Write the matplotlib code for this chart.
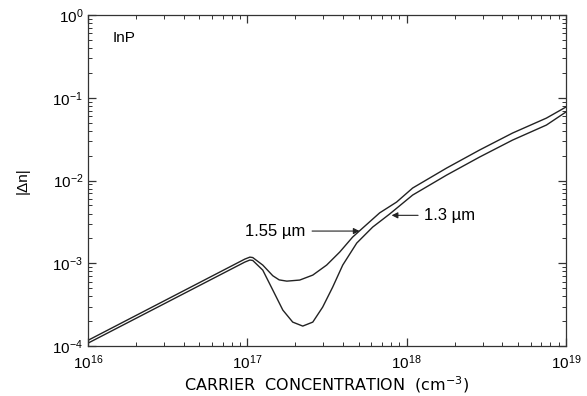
import numpy as np
import matplotlib.pyplot as plt
from matplotlib.ticker import LogLocator, NullFormatter

plt.rcParams['font.family'] = ['Liberation Sans', 'DejaVu Sans']

# log10(carrier concentration), log10(|dn|)
logn_155 = [16.00, 16.984, 17.016, 17.034, 17.097, 17.160, 17.200, 17.248,
            17.329, 17.411, 17.498, 17.580, 17.661, 17.724, 17.831, 17.937,
            18.038, 18.251, 18.458, 18.665, 18.878, 19.00]
logdn_155 = [-3.93, -2.949, -2.925, -2.930, -3.021, -3.150, -3.200, -3.215,
             -3.202, -3.142, -3.021, -2.864, -2.683, -2.574, -2.39, -2.260,
             -2.090, -1.849, -1.631, -1.426, -1.245, -1.112]

logn_13 = [16.00, 16.984, 17.016, 17.034, 17.097, 17.160, 17.223, 17.285,
           17.348, 17.411, 17.473, 17.536, 17.599, 17.687, 17.787, 17.893,
           18.038, 18.251, 18.458, 18.665, 18.878, 19.00]
logdn_13 = [-3.964, -2.985, -2.960, -2.965, -3.082, -3.323, -3.565, -3.710,
            -3.758, -3.710, -3.529, -3.287, -3.021, -2.755, -2.562, -2.405,
            -2.175, -1.934, -1.716, -1.511, -1.329, -1.172]

n_155 = 10.0 ** np.array(logn_155)
dn_155 = 10.0 ** np.array(logdn_155)
n_13 = 10.0 ** np.array(logn_13)
dn_13 = 10.0 ** np.array(logdn_13)

fig = plt.figure(figsize=(5.87, 3.96), dpi=100)
ax = fig.add_axes([0.150, 0.126, 0.814, 0.836])

ax.plot(n_155, dn_155, color='#222222', linewidth=1.0)
ax.plot(n_13, dn_13, color='#222222', linewidth=1.0)

ax.set_xscale('log')
ax.set_yscale('log')
ax.set_xlim(1e16, 1e19)
ax.set_ylim(1e-4, 1e0)

ax.xaxis.set_major_locator(LogLocator(base=10, numticks=10))
ax.xaxis.set_minor_locator(LogLocator(base=10, subs=np.arange(2, 10), numticks=20))
ax.yaxis.set_major_locator(LogLocator(base=10, numticks=10))
ax.yaxis.set_minor_locator(LogLocator(base=10, subs=np.arange(2, 10), numticks=20))
ax.xaxis.set_minor_formatter(NullFormatter())
ax.yaxis.set_minor_formatter(NullFormatter())

ax.tick_params(which='both', direction='in', top=True, right=True,
               labelsize=11, color='#333333')
ax.tick_params(which='major', length=6, width=0.9)
ax.tick_params(which='minor', length=3, width=0.7)
ax.tick_params(axis='x', pad=5)
for sp in ax.spines.values():
    sp.set_linewidth(0.9)
    sp.set_color('#333333')

ax.set_xlabel('CARRIER  CONCENTRATION  (cm$^{-3}$)', fontsize=11.5,
              family=['DejaVu Sans'], labelpad=2)
ax.set_ylabel('|Δn|', fontsize=11, labelpad=16)

ax.text(0.052, 0.93, 'InP', transform=ax.transAxes, fontsize=11,
        ha='left', va='center')

ax.annotate('1.55 µm', xy=(10 ** 17.705, 10 ** -2.61),
            xytext=(10 ** 16.984, 10 ** -2.61), fontsize=12,
            ha='left', va='center',
            arrowprops=dict(arrowstyle='-|>', color='#222222', lw=0.8,
                            mutation_scale=9, shrinkA=3, shrinkB=0))
ax.annotate('1.3 µm', xy=(10 ** 17.906, 10 ** -2.42),
            xytext=(10 ** 18.107, 10 ** -2.42), fontsize=12,
            ha='left', va='center',
            arrowprops=dict(arrowstyle='-|>', color='#222222', lw=0.8,
                            mutation_scale=9, shrinkA=2, shrinkB=0))

fig.savefig('out.png', dpi=100)
